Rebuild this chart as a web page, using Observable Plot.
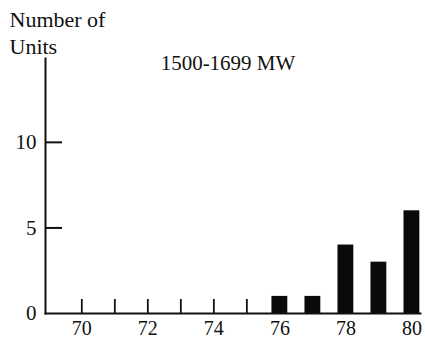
<!DOCTYPE html>
<html>
<head>
<meta charset="utf-8">
<script src="https://cdn.jsdelivr.net/npm/d3@7"></script>
<script src="https://cdn.jsdelivr.net/npm/@observablehq/plot@0.6"></script>
<style>
  html, body { margin: 0; padding: 0; background: #fff; }
  #chart { width: 425px; height: 341px; }
  #chart svg, #chart svg text { font-family: "Liberation Serif", "Times New Roman", serif !important; }
</style>
</head>
<body>
<div id="chart"></div>
<script>
// Data
const years = [76, 77, 78, 79, 80];
const units = [1, 1, 4, 3, 6];
const allTickYears = [70, 71, 72, 73, 74, 75, 76, 77, 78, 79, 80];
const labelYears = [70, 72, 74, 76, 78, 80];
const yTickValues = [0, 5, 10];
const yTickMarks = [5, 10];
const title = "1500-1699 MW";
const yLabel = "Number of\nUnits";

const data = years.map((y, i) => ({year: y, count: units[i]}));
const halfWidth = 0.24;
const ink = "#111";
const font = '"Liberation Serif", "Times New Roman", serif';

const chart = Plot.plot({
  width: 425,
  height: 341,
  marginLeft: 45,
  marginRight: 5,
  marginTop: 58,
  marginBottom: 28,
  style: {fontFamily: font, fontSize: "20px", color: ink, background: "#fff"},
  x: {domain: [68.9, 80.26]},
  y: {domain: [0, 14.9]},
  marks: [
    Plot.axisX(allTickYears, {tickSize: -14, strokeWidth: 1.8, fill: "none", stroke: ink}),
    Plot.axisX(labelYears, {tickSize: 0, tickPadding: 7, label: null, fontSize: 20, fill: ink, tickFormat: d => String(d)}),
    Plot.axisY(yTickMarks, {tickSize: -17, strokeWidth: 2, fill: "none", stroke: ink}),
    Plot.axisY(yTickValues, {tickSize: 0, tickPadding: 9, label: null, fontSize: 21, fill: ink}),
    Plot.rectY(data, {x1: d => d.year - halfWidth, x2: d => d.year + halfWidth, y: "count", fill: "#0a0a0a"}),
    Plot.frame({anchor: "left", stroke: ink, strokeWidth: 2}),
    Plot.frame({anchor: "bottom", stroke: ink, strokeWidth: 2}),
    Plot.text([yLabel], {frameAnchor: "top-left", textAnchor: "start", lineAnchor: "top", dx: -36, dy: -51, fontSize: 22, lineHeight: 1.23, fill: ink}),
    Plot.text([title], {frameAnchor: "top", textAnchor: "middle", lineAnchor: "top", dx: -5, dy: -3, fontSize: 21, fill: ink})
  ]
});
document.getElementById("chart").appendChild(chart);
</script>
</body>
</html>
